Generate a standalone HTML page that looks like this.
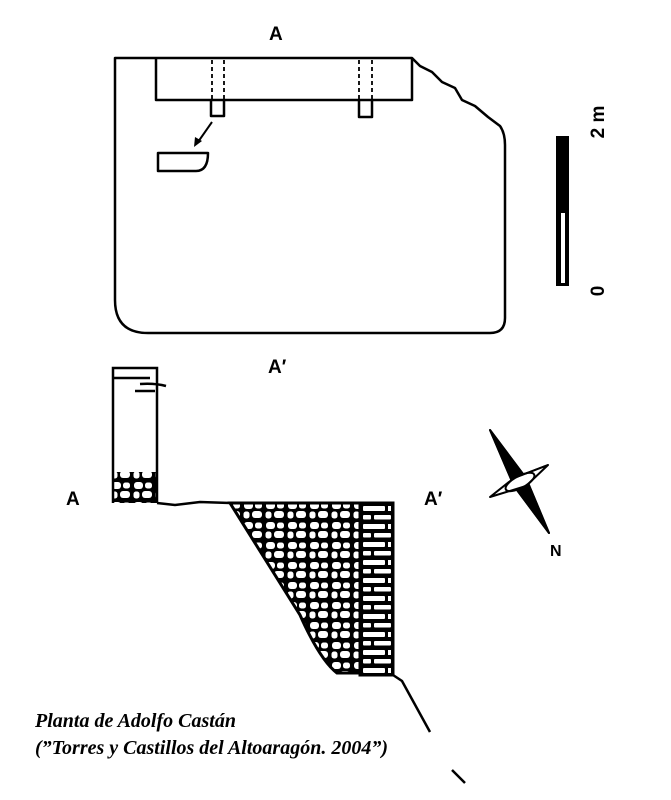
<!DOCTYPE html>
<html><head><meta charset="utf-8"><style>
body{margin:0;background:#fff;width:671px;height:800px;overflow:hidden}
svg{display:block}
</style></head><body>
<svg width="671" height="800" viewBox="0 0 671 800" xmlns="http://www.w3.org/2000/svg">
<defs>
<pattern id="stones" width="22" height="20" patternUnits="userSpaceOnUse">
<rect width="22" height="20" fill="#000"/>
<rect x="2" y="2" width="9" height="7" rx="3" fill="#fff"/>
<rect x="13" y="2.5" width="7" height="6" rx="2.5" fill="#fff"/>
<rect x="1.5" y="11.5" width="6" height="7" rx="2.5" fill="#fff"/>
<rect x="10" y="11" width="10" height="7" rx="3" fill="#fff"/>
</pattern>
<pattern id="bricks" width="33" height="18" patternUnits="userSpaceOnUse" x="360" y="503">
<rect width="33" height="18" fill="#000"/>
<rect x="3" y="3" width="22" height="5" rx="1" fill="#fff"/>
<rect x="28" y="3" width="3" height="5" fill="#fff"/>
<rect x="3" y="12" width="8" height="4.5" rx="1" fill="#fff"/>
<rect x="14" y="12" width="17" height="4.5" rx="1" fill="#fff"/>
</pattern>
</defs>
<g font-family="Liberation Sans, sans-serif" font-weight="bold" font-size="19" fill="#000">
<text x="269" y="40">A</text>
<text x="268" y="373">A′</text>
<text x="66" y="505">A</text>
<text x="424" y="505">A′</text>
<text x="550" y="556" font-size="16">N</text>
<text transform="translate(604,122) rotate(-90)" text-anchor="middle">2 m</text>
<text transform="translate(604,291) rotate(-90)" text-anchor="middle">0</text>
</g>
<g fill="none" stroke="#000" stroke-width="2.5" stroke-linejoin="round">
<path d="M115 58 H412 L420 66 L432 72 L442 82 L455 88 L462 100 L475 106 L488 117 L500 126 Q505 133 505 145 V318 Q505 333 490 333 H148 Q115 333 115 300 Z"/>
<path d="M156 58 V100 H412 V58"/>
<path d="M211 100 V116 H224 V100 M359 100 V117 H372 V100"/>
<path d="M212 60 V100 M224 60 V100 M359 60 V100 M372 60 V100" stroke-width="1.8" stroke-dasharray="4 3"/>
<path d="M158 153 H208 Q208 171 196 171 H158 Z"/>
<path d="M212 122 L198 142" stroke-width="2"/>
</g>
<path d="M194 147 L195 137 L202 141 Z" fill="#000"/>
<rect x="556" y="136" width="13" height="150" fill="#000"/>
<rect x="561" y="213" width="4" height="70" fill="#fff"/>
<!-- tower -->
<rect x="113" y="472" width="44" height="31" fill="url(#stones)"/>
<g fill="none" stroke="#000" stroke-width="2.5">
<path d="M113 503 V368 H157 V503"/>
<path d="M113 378 H150 M140 384 Q155 383 166 386 M135 391 H155"/>
</g>
<path d="M157 503 L175 505 L200 502 L230 503" fill="none" stroke="#000" stroke-width="2.5"/>
<!-- wall -->
<path d="M230 503 H360 V673 H337 Q320 660 300 615 Z" fill="url(#stones)" stroke="#000" stroke-width="3"/>
<rect x="360" y="503" width="33" height="172" fill="url(#bricks)" stroke="#000" stroke-width="3"/>
<path d="M393 675 L402 681 L430 732 M452 770 L465 783" fill="none" stroke="#000" stroke-width="2.5"/>
<!-- compass -->
<g stroke="#000" stroke-width="2" stroke-linejoin="round">
<path d="M490 430 L526 478 L514 486 Z" fill="#000"/>
<path d="M490 430 L526 478 L549 533 L514 486 Z" fill="none"/>
<path d="M549 533 L514 486 L526 478 Z" fill="#000"/>
<path d="M490 497 L514 478 L548 465 L526 486 Z" fill="#fff"/>
<path d="M514 478 L548 465" />
<ellipse cx="520" cy="482" rx="16" ry="6" transform="rotate(-28 520 482)" fill="none"/>
</g>
<g font-family="Liberation Serif, serif" font-style="italic" font-weight="bold" font-size="20" fill="#000">
<text x="35" y="727">Planta de Adolfo Castán</text>
<text x="35" y="754">(”Torres y Castillos del Altoaragón. 2004”)</text>
</g>
</svg>
</body></html>
